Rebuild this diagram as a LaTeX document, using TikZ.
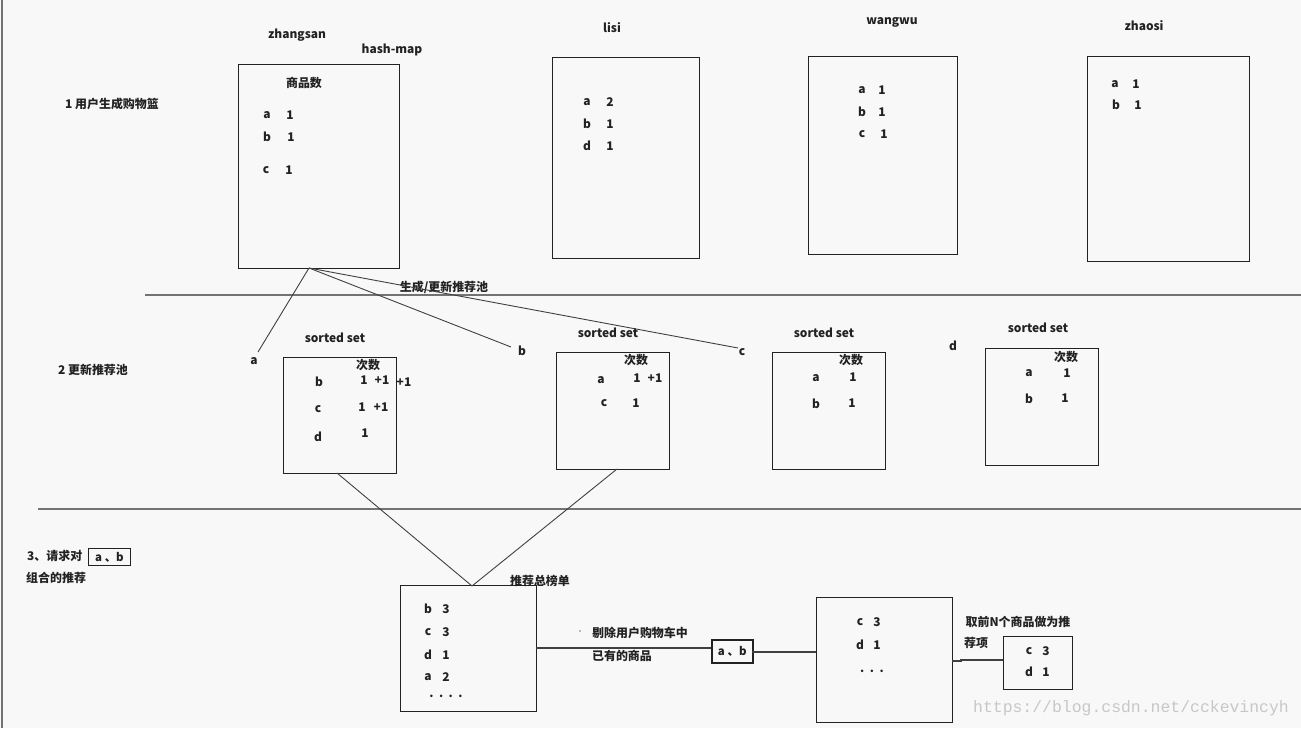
\documentclass[tikz,border=0pt]{standalone}
\usepackage{fontspec}
\setmainfont{Noto Sans CJK SC}
\newfontfamily\wmfont{Liberation Mono}
\definecolor{bg}{HTML}{F8F8F8}
\definecolor{ink}{HTML}{222222}
\begin{document}
\begin{tikzpicture}[x=1bp,y=-1bp,
  box/.style={draw=ink,line width=1.3bp,anchor=north west,inner sep=0pt},
  sepline/.style={draw=black!55,line width=1.2bp},
  conn/.style={draw=black!75,line width=0.9bp},
  t/.style={font=\fontsize{12}{14}\selectfont\bfseries,text=ink,inner sep=0pt},
  tag/.style={draw=ink,line width=1bp,font=\fontsize{11.5}{12}\selectfont\bfseries,text=ink,inner sep=0pt,anchor=north west}]
\fill[bg] (0,0) rectangle (1301,728);
\useasboundingbox (0,0) rectangle (1301,728);
\draw[black!55,line width=1.5bp] (2,0) -- (2,728);

% section 1
\node[t] (s1) at (112,104) {1 用户生成购物篮};
\node[t] (zsl) at (297,35) {zhangsan};
\node[t] (hm) at (392,50) {hash-map};
\node[box,minimum width=161bp,minimum height=204bp] (zs) at (238,64) {};
\node[t] (spcount) at (304,83) {商品数};
\node[t] at (267,115) {a}; \node[t] at (290,115) {1};
\node[t] at (267,137) {b}; \node[t] at (291,137) {1};
\node[t] at (266,170) {c}; \node[t] at (289,170) {1};

\node[t] (lsl) at (612,28) {lisi};
\node[box,minimum width=147bp,minimum height=201bp] (ls) at (552,57) {};
\node[t] at (587,102) {a}; \node[t] at (610,102) {2};
\node[t] at (587,124) {b}; \node[t] at (610,124) {1};
\node[t] at (587,146) {d}; \node[t] at (610,146) {1};

\node[t] (wwl) at (892,22) {wangwu};
\node[box,minimum width=149bp,minimum height=198bp] (ww) at (808,56) {};
\node[t] at (862,90) {a}; \node[t] at (882,90) {1};
\node[t] at (862,112) {b}; \node[t] at (882,112) {1};
\node[t] at (862,134) {c}; \node[t] at (884,134) {1};

\node[t] (zhl) at (1144,26) {zhaosi};
\node[box,minimum width=162bp,minimum height=205bp] (zh) at (1087,56) {};
\node[t] at (1115,84) {a}; \node[t] at (1136,84) {1};
\node[t] at (1116,105) {b}; \node[t] at (1138,105) {1};

\draw[sepline] (145,295) -- (1301,295);
\node[t] (gen) at (444,287) {生成/更新推荐池};

% connectors to items
\coordinate (zsb) at (309,268);
\coordinate (ea) at (258,352);
\coordinate (eb) at (511,347);
\coordinate (ec) at (738,348);
\draw[conn] (zsb) -- (ea);
\draw[conn] (zsb) -- (eb);
\draw[conn] (zsb) -- (ec);
\node[t] (la) at (254,361) {a};
\node[t] (lb) at (522,351) {b};
\node[t] (lc) at (742,352) {c};
\node[t] (ld) at (953,346) {d};

% section 2
\node[t] (s2) at (93,370) {2 更新推荐池};
\node[t] at (335,338) {sorted set};
\node[box,minimum width=113bp,minimum height=116bp] (ss1) at (283,357) {};
\node[t] at (368,365) {次数};
\node[t] at (319,382) {b}; \node[t] at (364,380) {1}; \node[t] at (382,380) {+1}; \node[t] at (404,382) {+1};
\node[t] at (318,409) {c}; \node[t] at (362,407) {1}; \node[t] at (381,407) {+1};
\node[t] at (318,437) {d}; \node[t] at (365,433) {1};

\node[t] at (608,333) {sorted set};
\node[box,minimum width=113bp,minimum height=117bp] (ss2) at (556,352) {};
\node[t] at (636,360) {次数};
\node[t] at (601,380) {a}; \node[t] at (637,378) {1}; \node[t] at (655,378) {+1};
\node[t] at (604,403) {c}; \node[t] at (636,403) {1};

\node[t] at (824,333) {sorted set};
\node[box,minimum width=113bp,minimum height=117bp] (ss3) at (772,352) {};
\node[t] at (851,360) {次数};
\node[t] at (816,378) {a}; \node[t] at (853,377) {1};
\node[t] at (816,404) {b}; \node[t] at (852,403) {1};

\node[t] at (1038,328) {sorted set};
\node[box,minimum width=113bp,minimum height=117bp] (ss4) at (985,348) {};
\node[t] at (1066,357) {次数};
\node[t] at (1029,373) {a}; \node[t] at (1067,373) {1};
\node[t] at (1029,399) {b}; \node[t] at (1065,398) {1};

\draw[sepline] (38,509) -- (1301,509);

% section 3
\node[t,anchor=west] (s3) at (27,556) {3、请求对};
\node[tag,minimum width=42bp,minimum height=17bp] (ab1) at (88,548) {a\ 、b};
\node[t,anchor=west] (s3b) at (26,578) {组合的推荐};

\node[box,minimum width=136bp,minimum height=126bp] (tot) at (400,585) {};
\node[t] (totl) at (540,581) {推荐总榜单};
\coordinate (tottop) at (472,586);
\coordinate (ss1b) at (337,473);
\coordinate (ss2b) at (617,469);
\draw[conn] (ss1b) -- (tottop);
\draw[conn] (ss2b) -- (tottop);
\node[t] at (428,609) {b}; \node[t] at (446,609) {3};
\node[t] at (428,632) {c}; \node[t] at (446,632) {3};
\node[t] at (428,655) {d}; \node[t] at (446,655) {1};
\node[t] at (428,677) {a}; \node[t] at (446,677) {2};
\node[t] at (446,696) {.\ \ .\ \ .\ \ .};

\node[tag,minimum width=41bp,minimum height=23bp,line width=1.5bp] (ab2) at (711,639) {a\ 、b};
\coordinate (totr) at (536,648);
\draw[conn,line width=1.1bp] (totr) -- (totr -| ab2.west);
\node[t] at (640,633) {剔除用户购物车中};
\node[t] at (622,656) {已有的商品};
\fill[black!50] (580,631) circle (0.8bp);

\node[box,minimum width=136bp,minimum height=125bp] (fin) at (816,597) {};
\coordinate (abr) at (752,652);
\draw[conn,line width=1.1bp] (abr) -- (abr -| fin.west);
\node[t] at (860,622) {c}; \node[t] at (877,622) {3};
\node[t] at (860,645) {d}; \node[t] at (877,645) {1};
\node[t] at (872,671) {.\ \ .\ \ .};

\node[t] at (1018,622) {取前N个商品做为推};
\node[t] at (976,643) {荐项};
\node[box,minimum width=69bp,minimum height=53bp] (top) at (1003,636) {};
\node[t] at (1029,651) {c}; \node[t] at (1046,651) {3};
\node[t] at (1029,672) {d}; \node[t] at (1046,672) {1};
\coordinate (finr) at (952,661);
\draw[conn,line width=1.1bp] (finr) -- (961,661) -- (961,660) -- (top.west |- 0,660);

\node[font=\wmfont\fontsize{16.5}{18}\selectfont,text=black!22,inner sep=0pt] (wm) at (1131,708) {https://blog.csdn.net/cckevincyh};
\end{tikzpicture}
\end{document}
